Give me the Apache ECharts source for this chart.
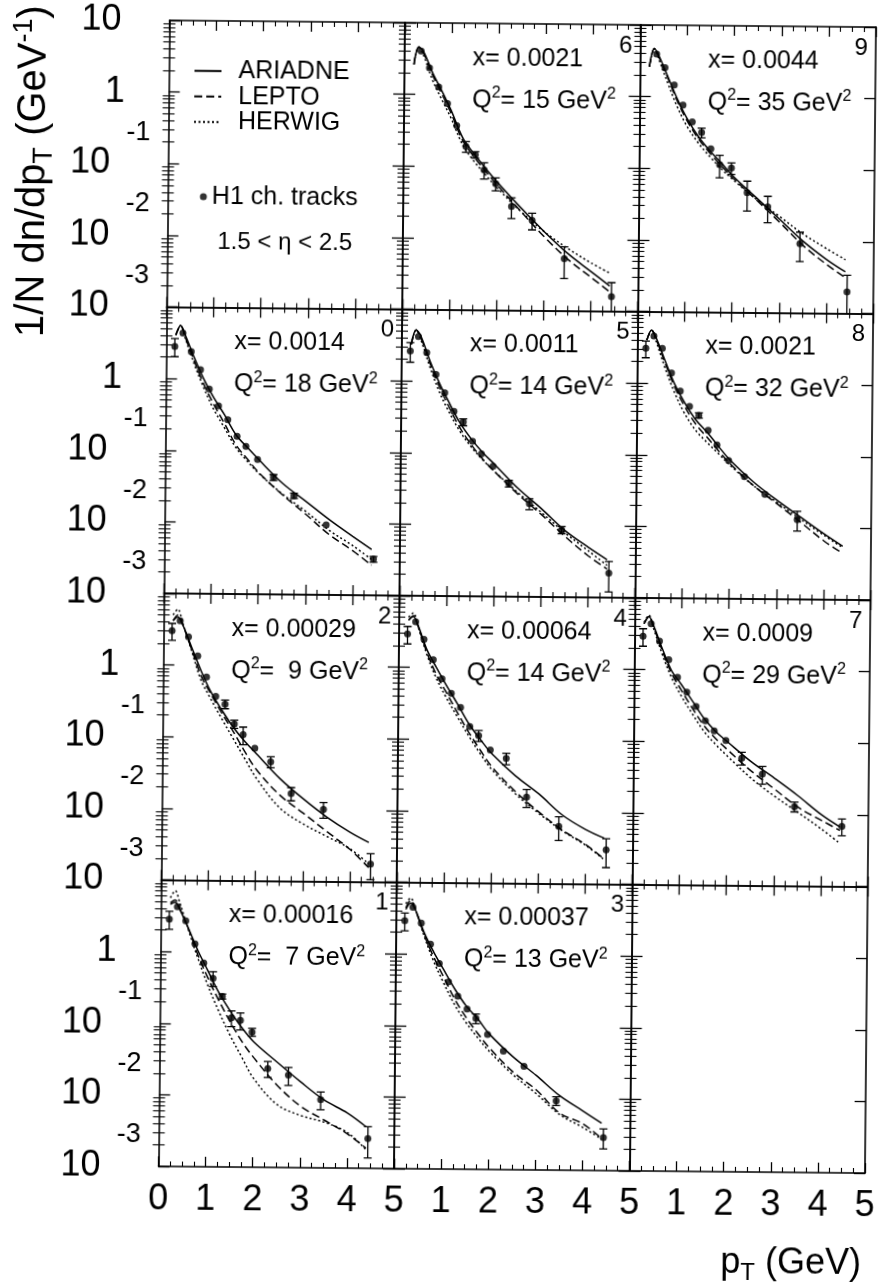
<!DOCTYPE html>
<html>
<head>
<meta charset="utf-8">
<script src="https://cdn.jsdelivr.net/npm/echarts@6/dist/echarts.min.js"></script>
<style>
html,body{margin:0;padding:0;background:#fff;}
#chart{width:879px;height:1288px;transform:rotate(0.55deg);transform-origin:50% 50%;}
</style>
</head>
<body>
<div id="chart"></div>
<script>
// ---------------- DATA ----------------
const PT = [0.18, 0.35, 0.53, 0.73, 0.92, 1.12, 1.32, 1.52, 1.71, 1.96, 2.3, 2.74, 3.43, 4.44];
const CURVE_PT = [0.2, 0.3, 0.4, 0.6, 0.8, 1.0, 1.25, 1.5, 1.75, 2.0, 2.5, 3.0, 3.5, 4.0, 4.4];
const X_TICK_LABELS = ['0', '1', '2', '3', '4', '5'];
const Y_EXPONENT_LABELS = [-3, -2, -1];
const Y_MINOR_MANTISSA = [2, 3, 4, 5, 6, 7, 8, 9];
const Y_DECADES = [-3, -2, -1, 0];

// panel 6 : x=0.0021, Q2=15
const H1_6 = [null, 4.03, 2.36, 1.28, 0.75, 0.37, 0.19, 0.146, 0.090, 0.058, 0.028, 0.018, 0.0053, 0.0016];
const ERR_6 = [0, 0, 0, 0, 0, 0, 0.033, 0.015, 0.023, 0.012, 0.009, 0.0047, 0.0025, 0.0009];
const ARIADNE_6 = [2.63, 4.57, 3.98, 2.0, 1.12, 0.603, 0.251, 0.148, 0.0933, 0.0603, 0.0269, 0.0126, 0.00631, 0.00355, 0.00224];
const LEPTO_6 = [2.63, 4.57, 3.8, 1.86, 1.02, 0.55, 0.229, 0.135, 0.0851, 0.055, 0.024, 0.0107, 0.00525, 0.00295, 0.00186];
const HERWIG_6 = [2.63, 4.57, 3.55, 1.58, 0.851, 0.468, 0.2, 0.117, 0.0759, 0.0501, 0.024, 0.0126, 0.00741, 0.00468, 0.00339];

// panel 9 : x=0.0044, Q2=35
const H1_9 = [null, 3.94, 2.56, 1.46, 0.77, 0.45, 0.32, 0.19, 0.115, 0.103, 0.047, 0.030, 0.0093, 0.0020];
const ERR_9 = [0, 0, 0, 0, 0, 0, 0.05, 0, 0.04, 0.019, 0.021, 0.012, 0.0041, 0.0014];
const ARIADNE_9 = [2.63, 4.68, 3.72, 1.86, 0.933, 0.513, 0.282, 0.178, 0.12, 0.0794, 0.0398, 0.02, 0.01, 0.00562, 0.0038];
const LEPTO_9 = [2.63, 4.68, 3.55, 1.78, 0.871, 0.479, 0.263, 0.166, 0.11, 0.0741, 0.0372, 0.0182, 0.00871, 0.00479, 0.00316];
const HERWIG_9 = [2.63, 4.68, 3.31, 1.51, 0.724, 0.398, 0.229, 0.148, 0.1, 0.0708, 0.038, 0.0219, 0.0126, 0.00794, 0.00562];

// panel 0 : x=0.0014, Q2=18
const H1_0 = [2.82, 4.34, 2.4, 1.34, 0.72, 0.42, 0.27, 0.16, 0.116, 0.076, 0.043, 0.024, 0.0095, 0.0032];
const ERR_0 = [0.8, 0, 0, 0, 0, 0, 0, 0, 0, 0, 0.004, 0.002, 0, 0.0003];
const ARIADNE_0 = [4.07, 5.5, 4.07, 1.95, 1.0, 0.575, 0.316, 0.166, 0.11, 0.0741, 0.0355, 0.02, 0.0112, 0.0066, 0.00437];
const LEPTO_0 = [4.07, 5.5, 3.8, 1.74, 0.851, 0.468, 0.24, 0.12, 0.0759, 0.049, 0.0245, 0.0132, 0.00692, 0.00417, 0.00263];
const HERWIG_0 = [4.07, 5.5, 3.63, 1.58, 0.759, 0.398, 0.209, 0.11, 0.0708, 0.0479, 0.0251, 0.0145, 0.00794, 0.0049, 0.00316];

// panel 5 : x=0.0011, Q2=14
const H1_5 = [2.62, 4.16, 2.48, 1.24, 0.69, 0.38, 0.27, 0.146, 0.098, 0.066, 0.038, 0.020, 0.0087, 0.0022];
const ERR_5 = [0.8, 0, 0, 0, 0, 0, 0.03, 0, 0, 0, 0.004, 0.0035, 0.001, 0.001];
const ARIADNE_5 = [3.24, 5.13, 4.27, 1.91, 0.955, 0.525, 0.263, 0.155, 0.1, 0.0692, 0.0324, 0.017, 0.00851, 0.00501, 0.00339];
const LEPTO_5 = [3.24, 5.13, 4.07, 1.78, 0.851, 0.457, 0.224, 0.129, 0.0813, 0.055, 0.0269, 0.0141, 0.00708, 0.0038, 0.00251];
const HERWIG_5 = [3.24, 5.13, 3.8, 1.58, 0.724, 0.389, 0.2, 0.12, 0.0794, 0.055, 0.0282, 0.0151, 0.00794, 0.00447, 0.00282];

// panel 8 : x=0.0021, Q2=32
const H1_8 = [3.06, 4.56, 3.06, 1.4, 0.78, 0.48, 0.36, 0.224, 0.14, 0.085, 0.051, 0.029, 0.013, null];
const ERR_8 = [0.8, 0, 0, 0, 0, 0, 0.03, 0, 0, 0, 0, 0, 0.004, 0];
const ARIADNE_8 = [3.98, 5.5, 4.27, 2.0, 0.977, 0.562, 0.316, 0.209, 0.132, 0.0851, 0.0427, 0.024, 0.0141, 0.00832, 0.00562];
const LEPTO_8 = [3.98, 5.5, 4.07, 1.86, 0.891, 0.501, 0.275, 0.178, 0.115, 0.0759, 0.038, 0.0214, 0.012, 0.00661, 0.00447];
const HERWIG_8 = [3.98, 5.5, 3.8, 1.58, 0.741, 0.398, 0.224, 0.151, 0.105, 0.0724, 0.038, 0.0224, 0.0132, 0.00794, 0.00537];

// panel 2 : x=0.00029, Q2=9
const H1_2 = [3.01, 4.16, 2.48, 1.35, 0.69, 0.37, 0.29, 0.153, 0.109, 0.071, 0.046, 0.0167, 0.0101, 0.00177];
const ERR_2 = [0.8, 0, 0, 0, 0, 0, 0.04, 0.02, 0.03, 0, 0.008, 0.0035, 0.0025, 0.0007];
const ARIADNE_2 = [4.17, 4.68, 3.72, 1.78, 0.851, 0.447, 0.24, 0.138, 0.0871, 0.0589, 0.0269, 0.0141, 0.00794, 0.0049, 0.00355];
const LEPTO_2 = [4.17, 5.01, 3.72, 1.66, 0.724, 0.417, 0.219, 0.12, 0.0631, 0.0355, 0.0158, 0.00891, 0.00501, 0.00282, 0.00158];
const HERWIG_2 = [5.01, 6.03, 3.98, 1.58, 0.631, 0.355, 0.182, 0.0955, 0.0501, 0.0269, 0.0105, 0.00631, 0.00427, 0.00288, 0.00178];

// panel 4 : x=0.00064, Q2=14
const H1_4 = [2.92, 4.34, 2.46, 1.29, 0.70, 0.44, 0.28, 0.152, 0.114, 0.072, 0.055, 0.016, 0.0063, 0.0030];
const ERR_4 = [0.8, 0, 0, 0, 0, 0, 0, 0, 0.02, 0, 0.01, 0.0045, 0.0023, 0.0013];
const ARIADNE_4 = [4.57, 5.13, 3.89, 1.74, 1.0, 0.589, 0.316, 0.166, 0.1, 0.0631, 0.0316, 0.0178, 0.00912, 0.00575, 0.00437];
const LEPTO_4 = [4.57, 5.25, 3.8, 1.58, 0.794, 0.468, 0.24, 0.126, 0.0708, 0.0417, 0.0191, 0.01, 0.00562, 0.00355, 0.00224];
const HERWIG_4 = [5.01, 5.75, 3.72, 1.48, 0.708, 0.398, 0.209, 0.112, 0.0631, 0.038, 0.0178, 0.00955, 0.0055, 0.00347, 0.00219];

// panel 7 : x=0.0009, Q2=29
const H1_7 = [2.92, 4.38, 2.51, 1.38, 0.79, 0.49, 0.31, 0.196, 0.142, 0.105, 0.060, 0.036, 0.0128, 0.0069];
const ERR_7 = [0.8, 0, 0, 0, 0, 0, 0, 0, 0, 0, 0.012, 0.01, 0.002, 0.0018];
const ARIADNE_7 = [4.37, 5.5, 4.17, 1.91, 0.955, 0.631, 0.363, 0.209, 0.138, 0.1, 0.0537, 0.0316, 0.0182, 0.01, 0.00676];
const LEPTO_7 = [4.37, 5.5, 3.98, 1.78, 0.871, 0.525, 0.288, 0.166, 0.11, 0.0776, 0.0398, 0.0224, 0.0126, 0.00832, 0.00603];
const HERWIG_7 = [4.57, 5.75, 3.8, 1.58, 0.759, 0.437, 0.24, 0.138, 0.0912, 0.0631, 0.0316, 0.0178, 0.0107, 0.00631, 0.00398];

// panel 1 : x=0.00016, Q2=7
const H1_1 = [2.84, 4.23, 2.69, 1.29, 0.70, 0.43, 0.24, 0.121, 0.112, 0.077, 0.024, 0.0195, 0.009, 0.0026];
const ERR_1 = [0.8, 0, 0, 0, 0, 0.1, 0.02, 0.03, 0.03, 0.01, 0.006, 0.0055, 0.0025, 0.0012];
const ARIADNE_1 = [4.57, 4.9, 3.89, 2.04, 1.02, 0.562, 0.269, 0.148, 0.0871, 0.0562, 0.0295, 0.0158, 0.00891, 0.00589, 0.0038];
const LEPTO_1 = [4.79, 5.25, 3.98, 2.0, 0.891, 0.447, 0.209, 0.105, 0.0562, 0.0339, 0.0141, 0.00724, 0.00468, 0.00302, 0.00191];
const HERWIG_1 = [5.62, 7.08, 4.79, 1.91, 0.794, 0.355, 0.148, 0.0676, 0.0339, 0.0174, 0.00759, 0.00537, 0.00437, 0.00316, 0.00182];

// panel 3 : x=0.00037, Q2=13
const H1_3 = [2.9, 4.47, 2.69, 1.37, 0.74, 0.41, 0.26, 0.173, 0.128, 0.077, 0.045, 0.0278, 0.0093, 0.0029];
const ERR_3 = [0.8, 0, 0, 0, 0, 0, 0, 0, 0.02, 0, 0, 0, 0.0013, 0.0009];
const ARIADNE_3 = [4.17, 5.13, 4.17, 1.95, 1.07, 0.631, 0.331, 0.191, 0.126, 0.0776, 0.038, 0.0209, 0.011, 0.00676, 0.00457];
const LEPTO_3 = [4.37, 5.62, 4.17, 1.82, 0.912, 0.501, 0.24, 0.132, 0.0794, 0.0501, 0.0234, 0.0132, 0.00631, 0.00447, 0.00282];
const HERWIG_3 = [5.01, 6.03, 4.27, 1.74, 0.794, 0.417, 0.2, 0.112, 0.0692, 0.0447, 0.0214, 0.0117, 0.00603, 0.00398, 0.00275];

const PANELS = [
  {row: 0, col: 1, xb: '0.0021', q2: '15', id: '6', h1: H1_6, err: ERR_6, ar: ARIADNE_6, le: LEPTO_6, he: HERWIG_6},
  {row: 0, col: 2, xb: '0.0044', q2: '35', id: '9', h1: H1_9, err: ERR_9, ar: ARIADNE_9, le: LEPTO_9, he: HERWIG_9},
  {row: 1, col: 0, xb: '0.0014', q2: '18', id: '0', h1: H1_0, err: ERR_0, ar: ARIADNE_0, le: LEPTO_0, he: HERWIG_0},
  {row: 1, col: 1, xb: '0.0011', q2: '14', id: '5', h1: H1_5, err: ERR_5, ar: ARIADNE_5, le: LEPTO_5, he: HERWIG_5},
  {row: 1, col: 2, xb: '0.0021', q2: '32', id: '8', h1: H1_8, err: ERR_8, ar: ARIADNE_8, le: LEPTO_8, he: HERWIG_8},
  {row: 2, col: 0, xb: '0.00029', q2: ' 9', id: '2', h1: H1_2, err: ERR_2, ar: ARIADNE_2, le: LEPTO_2, he: HERWIG_2},
  {row: 2, col: 1, xb: '0.00064', q2: '14', id: '4', h1: H1_4, err: ERR_4, ar: ARIADNE_4, le: LEPTO_4, he: HERWIG_4},
  {row: 2, col: 2, xb: '0.0009', q2: '29', id: '7', h1: H1_7, err: ERR_7, ar: ARIADNE_7, le: LEPTO_7, he: HERWIG_7},
  {row: 3, col: 0, xb: '0.00016', q2: ' 7', id: '1', h1: H1_1, err: ERR_1, ar: ARIADNE_1, le: LEPTO_1, he: HERWIG_1},
  {row: 3, col: 1, xb: '0.00037', q2: '13', id: '3', h1: H1_3, err: ERR_3, ar: ARIADNE_3, le: LEPTO_3, he: HERWIG_3}
];

// ---------------- LAYOUT / STYLE ----------------
const FONT = '"Liberation Sans", Arial, Helvetica, sans-serif';
const GRID_LEFT = [163.5, 399, 634.5];
const GRID_TOP = [23, 309.5, 596, 882.5];
const GRID_W = 235.5, GRID_H = 286.5;
const Y_MIN = 0.001, Y_MAX = 10;
const BLACK = '#000';
const AXIS_LINE = {show: true, onZero: false, lineStyle: {color: BLACK, width: 1.6}};

const Y_MINOR_LOG = [];
Y_DECADES.forEach(d => Y_MINOR_MANTISSA.forEach(m => Y_MINOR_LOG.push(d + Math.log10(m))));

const grids = [], xAxes = [], yAxes = [], series = [], graphics = [];

function yLabelFormatter(row) {
  return function (v) {
    const e = Math.round(Math.log10(v));
    if (e === 1) return row === 0 ? '{p10|10}' : '';
    if (e === 0) return '{p1|1}';
    return '{b|10}';
  };
}

for (let row = 0; row < 4; row++) {
  for (let col = 0; col < 3; col++) {
    const g = row * 3 + col;
    grids.push({left: GRID_LEFT[col], top: GRID_TOP[row], width: GRID_W, height: GRID_H,
      containLabel: false, outerBoundsMode: 'none'});
    ['bottom', 'top'].forEach(pos => {
      xAxes.push({
        type: 'value', gridIndex: g, position: pos, min: 0, max: 5, interval: 1,
        axisLine: AXIS_LINE,
        axisTick: {show: true, inside: true, length: 10, lineStyle: {color: BLACK, width: 1.3}},
        minorTick: {show: true, splitNumber: 4, length: 5, lineStyle: {color: BLACK, width: 1.1}},
        splitLine: {show: false}, minorSplitLine: {show: false},
        axisLabel: {
          show: pos === 'bottom' && row === 3, margin: 15, color: BLACK,
          fontFamily: FONT, fontSize: 36, showMinLabel: true, showMaxLabel: true,
          formatter: v => (col > 0 && v === 0) ? '' : X_TICK_LABELS[Math.round(v)]
        }
      });
    });
    ['left', 'right'].forEach(pos => {
      yAxes.push({
        type: 'log', logBase: 10, gridIndex: g, position: pos, min: Y_MIN, max: Y_MAX,
        axisLine: AXIS_LINE,
        axisTick: {show: true, inside: true, length: 11, lineStyle: {color: BLACK, width: 1.3}},
        splitLine: {show: false},
        axisLabel: {
          show: pos === 'left' && col === 0, margin: 18, color: BLACK, fontFamily: FONT,
          showMinLabel: true, showMaxLabel: true,
          formatter: yLabelFormatter(row),
          rich: {
            p10: {fontSize: 36, fontFamily: FONT, color: BLACK, padding: [0, 30, 0, 0]},
            p1: {fontSize: 36, fontFamily: FONT, color: BLACK, padding: [0, 26, 0, 0]},
            b: {fontSize: 36, fontFamily: FONT, color: BLACK, padding: [0, 40, 0, 0]}
          }
        }
      });
    });
    // log-spaced minor ticks (and the raised exponents of the decade labels) on linear axes in log10 space
    ['left', 'right'].forEach(pos => {
      yAxes.push({
        type: 'value', gridIndex: g, position: pos, min: -3, max: 1,
        axisLine: {show: false},
        axisTick: {show: true, inside: true, length: 6, customValues: Y_MINOR_LOG, lineStyle: {color: BLACK, width: 1.1}},
        axisLabel: {
          show: pos === 'left' && col === 0, customValues: Y_EXPONENT_LABELS, margin: 18,
          color: BLACK, fontFamily: FONT,
          formatter: v => '{e|' + Math.round(v) + '}\n{g| }',
          rich: {
            e: {fontSize: 27, lineHeight: 27, fontFamily: FONT, color: BLACK, align: 'right'},
            g: {fontSize: 2, lineHeight: 62, align: 'right'}
          }
        },
        splitLine: {show: false}
      });
    });
  }
}

function richText(extra) {
  return Object.assign({fill: BLACK, fontFamily: FONT}, extra);
}

PANELS.forEach(p => {
  const g = p.row * 3 + p.col;
  const xi = g * 2, yi = g * 4;
  const curve = (name, vals, type) => ({
    name: name, type: 'line', xAxisIndex: xi, yAxisIndex: yi, smooth: 0.35,
    symbol: 'none', showSymbol: false, silent: true, z: 2, clip: true,
    lineStyle: {color: BLACK, width: 1.5, type: type},
    itemStyle: {color: BLACK},
    data: CURVE_PT.map((x, i) => [x, vals[i]])
  });
  series.push(curve('ARIADNE', p.ar, 'solid'));
  series.push(curve('LEPTO', p.le, [8, 4]));
  series.push(curve('HERWIG', p.he, [2, 2.5]));
  const pts = [], bars = [];
  PT.forEach((x, i) => {
    const v = p.h1[i];
    if (v == null) return;
    pts.push([x, v]);
    const s = p.err[i];
    if (s > 0) bars.push([x, Math.max(v - s, 1e-4), v + s]);
  });
  series.push({
    name: 'H1 ch. tracks', type: 'scatter', xAxisIndex: xi, yAxisIndex: yi, symbol: 'circle',
    symbolSize: 7, silent: true, z: 4, itemStyle: {color: BLACK}, data: pts
  });
  series.push({
    name: 'H1 ch. tracks', type: 'custom', xAxisIndex: xi, yAxisIndex: yi, clip: true, silent: true, z: 3,
    itemStyle: {color: BLACK},
    encode: {x: 0, y: [1, 2]},
    renderItem: function (params, api) {
      const x = api.value(0);
      const lo = api.coord([x, api.value(1)]);
      const hi = api.coord([x, api.value(2)]);
      const cap = 4;
      const st = {stroke: BLACK, lineWidth: 1.3};
      return {type: 'group', children: [
        {type: 'line', shape: {x1: lo[0], y1: lo[1], x2: hi[0], y2: hi[1]}, style: st},
        {type: 'line', shape: {x1: lo[0] - cap, y1: lo[1], x2: lo[0] + cap, y2: lo[1]}, style: st},
        {type: 'line', shape: {x1: hi[0] - cap, y1: hi[1], x2: hi[0] + cap, y2: hi[1]}, style: st}
      ]};
    },
    data: bars
  });

  const left = GRID_LEFT[p.col], top = GRID_TOP[p.row];
  graphics.push({type: 'text', x: left + 68, y: top + 35, silent: true, z: 10,
    style: richText({text: 'x= ' + p.xb, fontSize: 25, align: 'left', verticalAlign: 'middle'})});
  graphics.push({type: 'text', x: left + 68, y: top + 77, silent: true, z: 10,
    style: richText({text: 'Q{s|2}= ' + p.q2 + ' GeV{s|2}', fontSize: 25, lineHeight: 30, align: 'left', verticalAlign: 'middle',
      rich: {s: richText({fontSize: 16, lineHeight: 16, verticalAlign: 'top'})}})});
  graphics.push({type: 'text', x: left + GRID_W - 8, y: top + 21, silent: true, z: 10,
    style: richText({text: p.id, fontSize: 24, align: 'right', verticalAlign: 'middle'})});
});

// axis titles and legend annotation
graphics.push({type: 'text', x: 29, y: 175, rotation: Math.PI / 2, silent: true, z: 10,
  style: richText({text: '1/N dn/dp{sub|T} (GeV{sup|-1})', fontSize: 40, lineHeight: 48, align: 'center', verticalAlign: 'middle',
    rich: {sub: richText({fontSize: 27, lineHeight: 27, padding: [14, 0, 0, 0], verticalAlign: 'bottom'}),
           sup: richText({fontSize: 27, lineHeight: 27, verticalAlign: 'top'})}})});
graphics.push({type: 'text', x: 867, y: 1260, silent: true, z: 10,
  style: richText({text: 'p{sub|T} (GeV)', fontSize: 36, lineHeight: 44, align: 'right', verticalAlign: 'middle',
    rich: {sub: richText({fontSize: 24, lineHeight: 24, padding: [12, 0, 0, 0], verticalAlign: 'bottom'})}})});
graphics.push({type: 'text', x: 213.5, y: 244.4, silent: true, z: 10,
  style: richText({text: '1.5 < \u03b7 < 2.5', fontSize: 24, align: 'left', verticalAlign: 'middle'})});

const legendText = {fontSize: 25, fontFamily: FONT, color: BLACK, lineHeight: 25, padding: [0, 0, 0, 12]};
const option = {
  animation: false,
  backgroundColor: '#fff',
  grid: grids,
  xAxis: xAxes,
  yAxis: yAxes,
  legend: [
    {data: ['ARIADNE', 'LEPTO', 'HERWIG'], orient: 'vertical', left: 188, top: 60.7, padding: 0,
      itemWidth: 27, itemHeight: 14, itemGap: 0.5, selectedMode: false, textStyle: legendText,
      itemStyle: {opacity: 0, borderWidth: 0}},
    {data: [{name: 'H1 ch. tracks', icon: 'circle'}], orient: 'vertical', left: 195.6, top: 186.6, padding: 0,
      itemWidth: 7, itemHeight: 7, selectedMode: false, itemStyle: {color: BLACK},
      textStyle: {fontSize: 25, fontFamily: FONT, color: BLACK, lineHeight: 25}}
  ],
  graphic: graphics,
  series: series
};

const chart = echarts.init(document.getElementById('chart'), null, {renderer: 'canvas', width: 879, height: 1288});
chart.setOption(option);
</script>
</body>
</html>
